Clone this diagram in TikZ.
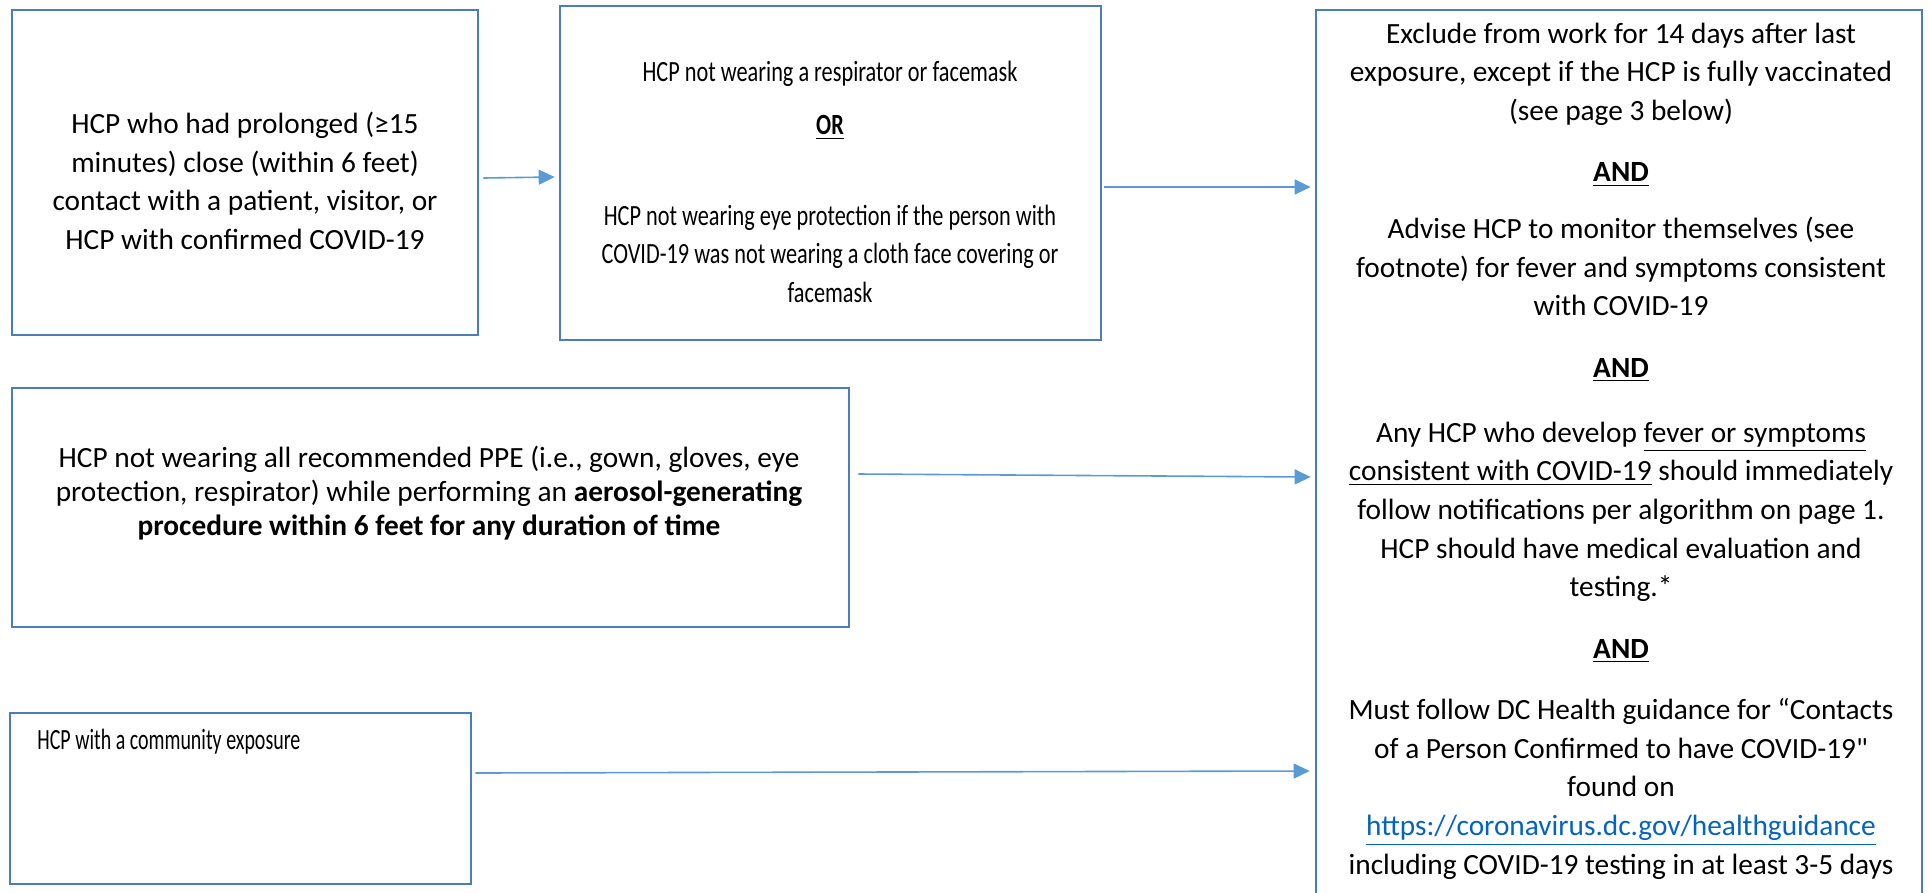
\documentclass[tikz,border=0pt]{standalone}
\usepackage{fontspec}
\setmainfont{Carlito}
\newfontfamily\narrowfont[FakeStretch=0.76]{Carlito}
\newfontfamily\condfont[FakeStretch=0.68]{Carlito}
\usetikzlibrary{arrows.meta,fit}
\definecolor{boxblue}{RGB}{74,126,187}
\definecolor{arrowblue}{RGB}{91,155,213}
\definecolor{linkblue}{RGB}{5,99,193}
\newcommand{\undl}[1]{\underline{#1}}

\begin{document}
\begin{tikzpicture}[x=0.375pt, y=-0.375pt,
  boxnode/.style={draw=boxblue, line width=1pt, inner sep=0pt},
  textnode/.style={align=center, font=\fontsize{11}{14.5}\selectfont},
  arrowline/.style={draw=arrowblue, line width=0.6pt, -{Triangle[length=6pt,width=5.6pt]}}]
\useasboundingbox (0,0) rectangle (1929,892);
% boxes
\node[boxnode, fit={(12,10) (478,335)}] (contact) {};
\node[boxnode, fit={(560,6) (1101,340)}] (nomask) {};
\node[boxnode, fit={(1316,10) (1922,1000)}] (actions) {};
\node[boxnode, fit={(12,388) (849,627)}] (ppe) {};
\node[boxnode, fit={(10,713) (471,884)}] (community) {};
% texts
\node[textnode] (contacttxt) at (245,181) {HCP who had prolonged (≥15\\minutes) close (within 6 feet)\\contact with a patient, visitor, or\\HCP with confirmed COVID-19};
\node[textnode, font=\narrowfont\fontsize{11}{14.5}\selectfont] (nomasktxt) at (830,182) {HCP not wearing a respirator or facemask\\[5.5pt]
  \textbf{\undl{OR}}\\[19.4pt]
  HCP not wearing eye protection if the person with\\COVID-19 was not wearing a cloth face covering or\\facemask};
\node[textnode] (actionstxt) at (1621,451) {Exclude from work for 14 days after last\\exposure, except if the HCP is fully vaccinated\\(see page 3 below)\\[8.5pt]
  \textbf{\undl{AND}}\\[6.7pt]
  Advise HCP to monitor themselves (see\\footnote) for fever and symptoms consistent\\with COVID-19\\[8.5pt]
  \textbf{\undl{AND}}\\[9.9pt]
  Any HCP who develop \undl{fever or symptoms}\\\undl{consistent with COVID-19} should immediately\\follow notifications per algorithm on page 1.\\HCP should have medical evaluation and\\testing.*\\[8.5pt]
  \textbf{\undl{AND}}\\[8.5pt]
  Must follow DC Health guidance for “Contacts\\of a Person Confirmed to have COVID-19\textquotedbl\\found on\\\textcolor{linkblue}{\undl{https://coronavirus.dc.gov/healthguidance}}\\including COVID-19 testing in at least 3-5 days};
\node[textnode, font=\fontsize{11}{12.9}\selectfont] (ppetxt) at (429,493) {HCP not wearing all recommended PPE (i.e., gown, gloves, eye\\protection, respirator) while performing an \textbf{aerosol-generating}\\\textbf{procedure within 6 feet for any duration of time}};
\node[textnode, anchor=west, font=\condfont\fontsize{11}{14.5}\selectfont] (communitytxt) at (28,742) {HCP with a community exposure};
% arrows
\draw[arrowline] ([shift={(4,5.5)}]contact.east) -- ([shift={(-4,4)}]nomask.west);
\draw[arrowline] ([shift={(2,14)}]nomask.east) -- ([shift={(-4,-318)}]actions.west);
\draw[arrowline] ([shift={(8,-33.5)}]ppe.east) -- ([shift={(-4,-28)}]actions.west);
\draw[arrowline] ([shift={(3,-25.5)}]community.east) -- ([shift={(-5,266)}]actions.west);
\end{tikzpicture}
\end{document}
